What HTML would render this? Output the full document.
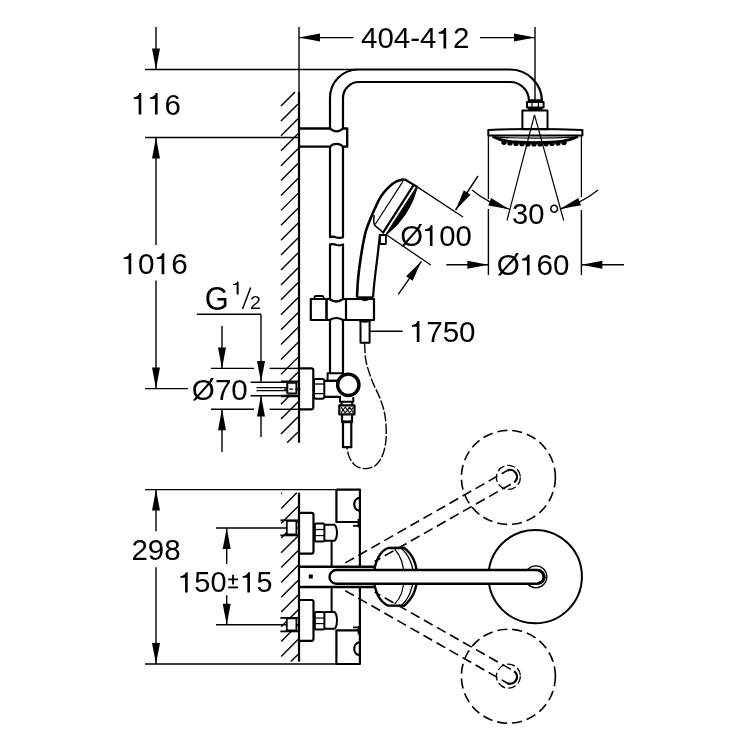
<!DOCTYPE html>
<html><head><meta charset="utf-8"><style>
html,body{margin:0;padding:0;background:#fff;}
svg{display:block;will-change:transform;}
text{font-family:"Liberation Sans",sans-serif;fill:#000;stroke:none;}
</style></head><body>
<svg width="750" height="750" viewBox="0 0 750 750" stroke="#000" fill="none" stroke-linecap="butt" stroke-linejoin="round">
<rect x="0" y="0" width="750" height="750" fill="#fff" stroke="none"/>
<line x1="156" y1="27" x2="156" y2="69.5" stroke-width="1.4" />
<polygon points="156,69.5 152,48.5 160,48.5" fill="#000" stroke="none"/>
<line x1="145" y1="69.5" x2="358" y2="69.5" stroke-width="1.4" />
<g transform="translate(131.74,114.5) scale(0.9746,1)"><path transform="translate(0,0) scale(30.14)" d="M0.235,0 L0.325,0 L0.325,-0.71 L0.262,-0.71 C0.24,-0.64 0.19,-0.585 0.07,-0.572 L0.07,-0.515 L0.235,-0.515 Z" fill="#000" stroke="none"/><path transform="translate(16.76,0) scale(30.14)" d="M0.235,0 L0.325,0 L0.325,-0.71 L0.262,-0.71 C0.24,-0.64 0.19,-0.585 0.07,-0.572 L0.07,-0.515 L0.235,-0.515 Z" fill="#000" stroke="none"/><text x="33.53" y="0" font-size="30.14">6</text></g>
<line x1="145" y1="137.5" x2="299" y2="137.5" stroke-width="1.4" />
<polygon points="156,137.5 160,158.5 152,158.5" fill="#000" stroke="none"/>
<line x1="156" y1="137.5" x2="156" y2="245" stroke-width="1.4" />
<g transform="translate(121.62,274.3) scale(1.0038,1)"><path transform="translate(0,0) scale(29.58)" d="M0.235,0 L0.325,0 L0.325,-0.71 L0.262,-0.71 C0.24,-0.64 0.19,-0.585 0.07,-0.572 L0.07,-0.515 L0.235,-0.515 Z" fill="#000" stroke="none"/><text x="16.45" y="0" font-size="29.58">0</text><path transform="translate(32.9,0) scale(29.58)" d="M0.235,0 L0.325,0 L0.325,-0.71 L0.262,-0.71 C0.24,-0.64 0.19,-0.585 0.07,-0.572 L0.07,-0.515 L0.235,-0.515 Z" fill="#000" stroke="none"/><text x="49.35" y="0" font-size="29.58">6</text></g>
<line x1="156" y1="280.5" x2="156" y2="388.6" stroke-width="1.4" />
<polygon points="156,388.6 152,367.6 160,367.6" fill="#000" stroke="none"/>
<line x1="145" y1="388.6" x2="188" y2="388.6" stroke-width="1.4" />
<line x1="299" y1="27" x2="299" y2="92" stroke-width="1.4" />
<line x1="535" y1="27" x2="535" y2="100" stroke-width="1.4" />
<line x1="299" y1="37.6" x2="353.6" y2="37.6" stroke-width="1.4" />
<polygon points="299,37.6 320,33.6 320,41.6" fill="#000" stroke="none"/>
<line x1="480" y1="37.6" x2="535" y2="37.6" stroke-width="1.4" />
<polygon points="535,37.6 514,41.6 514,33.6" fill="#000" stroke="none"/>
<g transform="translate(361.06,48.49) scale(1.0275,1)"><text x="0" y="0" font-size="28.73">404-4</text><path transform="translate(73.49,0) scale(28.73)" d="M0.235,0 L0.325,0 L0.325,-0.71 L0.262,-0.71 C0.24,-0.64 0.19,-0.585 0.07,-0.572 L0.07,-0.515 L0.235,-0.515 Z" fill="#000" stroke="none"/><text x="89.47" y="0" font-size="28.73">2</text></g>
<line x1="299" y1="92" x2="299" y2="442.8" stroke-width="2.2" />
<line x1="281" y1="106" x2="295" y2="92" stroke-width="1.4"/>
<line x1="281" y1="120.91" x2="298" y2="103.91" stroke-width="1.4"/>
<line x1="281" y1="135.82" x2="298" y2="118.82" stroke-width="1.4"/>
<line x1="281" y1="150.73" x2="298" y2="133.73" stroke-width="1.4"/>
<line x1="281" y1="165.64" x2="298" y2="148.64" stroke-width="1.4"/>
<line x1="281" y1="180.55" x2="298" y2="163.55" stroke-width="1.4"/>
<line x1="281" y1="195.46" x2="298" y2="178.46" stroke-width="1.4"/>
<line x1="281" y1="210.37" x2="298" y2="193.37" stroke-width="1.4"/>
<line x1="281" y1="225.28" x2="298" y2="208.28" stroke-width="1.4"/>
<line x1="281" y1="240.19" x2="298" y2="223.19" stroke-width="1.4"/>
<line x1="281" y1="255.1" x2="298" y2="238.1" stroke-width="1.4"/>
<line x1="281" y1="270.01" x2="298" y2="253.01" stroke-width="1.4"/>
<line x1="281" y1="284.92" x2="298" y2="267.92" stroke-width="1.4"/>
<line x1="281" y1="299.83" x2="298" y2="282.83" stroke-width="1.4"/>
<line x1="281" y1="314.74" x2="298" y2="297.74" stroke-width="1.4"/>
<line x1="281" y1="329.65" x2="298" y2="312.65" stroke-width="1.4"/>
<line x1="281" y1="344.56" x2="298" y2="327.56" stroke-width="1.4"/>
<line x1="281" y1="359.47" x2="298" y2="342.47" stroke-width="1.4"/>
<line x1="281" y1="374.38" x2="298" y2="357.38" stroke-width="1.4"/>
<line x1="281" y1="389.29" x2="298" y2="372.29" stroke-width="1.4"/>
<line x1="281" y1="404.2" x2="298" y2="387.2" stroke-width="1.4"/>
<line x1="281" y1="419.11" x2="298" y2="402.11" stroke-width="1.4"/>
<line x1="281" y1="434.02" x2="298" y2="417.02" stroke-width="1.4"/>
<line x1="287.13" y1="442.8" x2="298" y2="431.93" stroke-width="1.4"/>
<line x1="197" y1="314.3" x2="261" y2="314.3" stroke-width="1.4" />
<line x1="261" y1="314.3" x2="261" y2="382" stroke-width="1.4" />
<polygon points="261,382 257,361 265,361" fill="#000" stroke="none"/>
<line x1="261" y1="395.6" x2="261" y2="437" stroke-width="1.4" />
<polygon points="261,395.6 265,416.6 257,416.6" fill="#000" stroke="none"/>
<line x1="222" y1="326" x2="222" y2="368.4" stroke-width="1.4" />
<polygon points="222,368.4 218,347.4 226,347.4" fill="#000" stroke="none"/>
<line x1="222" y1="409.3" x2="222" y2="452" stroke-width="1.4" />
<polygon points="222,409.3 226,430.3 218,430.3" fill="#000" stroke="none"/>
<line x1="211" y1="368.4" x2="254" y2="368.4" stroke-width="1.4" />
<line x1="269.6" y1="368.4" x2="299" y2="368.4" stroke-width="1.4" />
<line x1="211" y1="409.3" x2="254" y2="409.3" stroke-width="1.4" />
<line x1="269.6" y1="409.3" x2="299" y2="409.3" stroke-width="1.4" />
<g transform="translate(204.66,309.82) scale(0.9520,1)"><text x="0" y="0" font-size="32.39">G</text></g>
<g transform="translate(231.46,294.48) scale(1.1994,1)"><path transform="translate(0,0) scale(18.31)" d="M0.235,0 L0.325,0 L0.325,-0.71 L0.262,-0.71 C0.24,-0.64 0.19,-0.585 0.07,-0.572 L0.07,-0.515 L0.235,-0.515 Z" fill="#000" stroke="none"/></g>
<line x1="242.5" y1="309" x2="250.7" y2="287.4" stroke-width="1.5" />
<g transform="translate(250.12,308.78) scale(1.1022,1)"><text x="0" y="0" font-size="17.75">2</text></g>
<g transform="translate(191.86,399.99) scale(1.0105,1)"><text x="0" y="0" font-size="29.3">Ø70</text></g>
<line x1="145" y1="489.6" x2="336.4" y2="489.6" stroke-width="1.4" />
<line x1="145" y1="664" x2="336" y2="664" stroke-width="1.4" />
<line x1="156" y1="489.6" x2="156" y2="531.3" stroke-width="1.4" />
<polygon points="156,489.6 160,510.6 152,510.6" fill="#000" stroke="none"/>
<line x1="156" y1="567.3" x2="156" y2="664" stroke-width="1.4" />
<polygon points="156,664 152,643 160,643" fill="#000" stroke="none"/>
<g transform="translate(131.42,559.89) scale(1.0036,1)"><text x="0" y="0" font-size="29.44">298</text></g>
<line x1="216" y1="528" x2="299" y2="528" stroke-width="1.4" />
<line x1="216" y1="624.8" x2="299" y2="624.8" stroke-width="1.4" />
<line x1="226.7" y1="528" x2="226.7" y2="564" stroke-width="1.4" />
<polygon points="226.7,528 230.7,549 222.7,549" fill="#000" stroke="none"/>
<line x1="226.7" y1="595.3" x2="226.7" y2="624.8" stroke-width="1.4" />
<polygon points="226.7,624.8 222.7,603.8 230.7,603.8" fill="#000" stroke="none"/>
<g transform="translate(178.27,592.49) scale(1.0129,1)"><path transform="translate(0,0) scale(28.59)" d="M0.235,0 L0.325,0 L0.325,-0.71 L0.262,-0.71 C0.24,-0.64 0.19,-0.585 0.07,-0.572 L0.07,-0.515 L0.235,-0.515 Z" fill="#000" stroke="none"/><text x="15.9" y="0" font-size="28.59">50</text></g>
<line x1="228.2" y1="579.4" x2="238" y2="579.4" stroke-width="1.8" />
<line x1="233" y1="574.8" x2="233" y2="584.4" stroke-width="1.8" />
<line x1="228.2" y1="587.4" x2="238" y2="587.4" stroke-width="1.8" />
<g transform="translate(240.59,592.49) scale(1.0061,1)"><path transform="translate(0,0) scale(28.59)" d="M0.235,0 L0.325,0 L0.325,-0.71 L0.262,-0.71 C0.24,-0.64 0.19,-0.585 0.07,-0.572 L0.07,-0.515 L0.235,-0.515 Z" fill="#000" stroke="none"/><text x="15.9" y="0" font-size="28.59">5</text></g>
<line x1="299" y1="492.8" x2="299" y2="661.6" stroke-width="2.2" />
<line x1="281.2" y1="493.6" x2="282" y2="492.8" stroke-width="1.4"/>
<line x1="281.2" y1="508.4" x2="296.8" y2="492.8" stroke-width="1.4"/>
<line x1="281.2" y1="523.2" x2="298" y2="506.4" stroke-width="1.4"/>
<line x1="281.2" y1="538" x2="298" y2="521.2" stroke-width="1.4"/>
<line x1="281.2" y1="552.8" x2="298" y2="536" stroke-width="1.4"/>
<line x1="281.2" y1="567.6" x2="298" y2="550.8" stroke-width="1.4"/>
<line x1="281.2" y1="582.4" x2="298" y2="565.6" stroke-width="1.4"/>
<line x1="281.2" y1="597.2" x2="298" y2="580.4" stroke-width="1.4"/>
<line x1="281.2" y1="612" x2="298" y2="595.2" stroke-width="1.4"/>
<line x1="281.2" y1="626.8" x2="298" y2="610" stroke-width="1.4"/>
<line x1="281.2" y1="641.6" x2="298" y2="624.8" stroke-width="1.4"/>
<line x1="281.2" y1="656.4" x2="298" y2="639.6" stroke-width="1.4"/>
<line x1="290.8" y1="661.6" x2="298" y2="654.4" stroke-width="1.4"/>
<path d="M330,128 L330,97.5 A28,28 0 0 1 358,69.5 L510,69.5 A32,32 0 0 1 542,101.5" stroke-width="2.2" />
<path d="M343,128 L343,98 A16,16 0 0 1 359,82 L510,82 A19,19 0 0 1 529,101" stroke-width="2.2" />
<path d="M299,128.5 L330,128.5 A9,9 0 0 0 343,128.5 L347.2,128.5 L347.2,146.7 L343,146.7 A9,9 0 0 0 330,146.7 L299,146.7" stroke-width="2.3" />
<path d="M330,146.7 L330,237.2 Q333,236 336.5,237.5 Q340,238.5 343,237.2 L343,146.7" stroke-width="2.2" />
<path d="M330,299 L330,244.4 Q333,243.5 336.5,245 Q340,246 343,244.4 L343,299" stroke-width="2.2" />
<path d="M330,320 L330,373.2 M343,320 L343,373.2" stroke-width="2.2" />
<path d="M310.8,299 L329.5,299 Q336.2,304 343,299 L374,299 L374,320 L343,320 Q336.2,316 329.5,320 L310.8,320 Z" stroke-width="2.2" />
<line x1="326.5" y1="299" x2="326.5" y2="320" stroke-width="2.6" />
<line x1="346" y1="299" x2="346" y2="320" stroke-width="2.2" />
<path d="M314.5,299 L314.5,297 Q314.5,296 316,296 L322,296 Q323.5,296 323.5,297 L323.5,299" stroke-width="1.8" />
<rect x="360.5" y="320.8" width="9.1" height="21.9" rx="0" stroke-width="2" />
<path d="M358,320 Q365,324 372,320 Z" stroke-width="1.5" fill="#000"/>
<line x1="370.4" y1="331.2" x2="402.7" y2="331.2" stroke-width="1.4" />
<g transform="translate(409.83,341.99) scale(1.0030,1)"><path transform="translate(0,0) scale(29.44)" d="M0.235,0 L0.325,0 L0.325,-0.71 L0.262,-0.71 C0.24,-0.64 0.19,-0.585 0.07,-0.572 L0.07,-0.515 L0.235,-0.515 Z" fill="#000" stroke="none"/><text x="16.37" y="0" font-size="29.44">750</text></g>
<rect x="327.6" y="373.2" width="15.4" height="7.6" rx="0" stroke-width="2" />
<path d="M299,368.4 L311.3,368.4 Q313.3,368.4 313.3,370.4 L313.3,407.3 Q313.3,409.3 311.3,409.3 L299,409.3" stroke-width="2.2" />
<path d="M314,380 Q314,378.9 316,378.9 L322.3,378.9 Q324.3,378.9 324.3,381 L324.3,396.6 Q324.3,398.7 322.3,398.7 L316,398.7 Q314,398.7 314,396.6 Z" stroke-width="2" />
<line x1="314.5" y1="384" x2="324" y2="384" stroke-width="1.3" />
<line x1="314.5" y1="393.6" x2="324" y2="393.6" stroke-width="1.3" />
<path d="M324.3,380.8 L338,380.8 M324.3,396.9 L341,396.9" stroke-width="2.2" />
<circle cx="348.3" cy="384.8" r="10.7" stroke-width="3.4" fill="#fff"/>
<path d="M340,397 L340,401.7 L353.3,401.7 L353.3,397" stroke-width="2" />
<path d="M341.5,401.7 L341.5,405.3 M352.2,401.7 L352.2,405.3" stroke-width="2" />
<rect x="339.3" y="405.4" width="15.2" height="8.9" rx="0" stroke-width="2.2" fill="#fff"/>
<path d="M341,412.8 L345.3,407 L349.6,412.8 L353.2,407.4 M341,407.2 L345.3,412.9 L349.6,407.1 L353.2,412.6" stroke-width="1.1" />
<path d="M342,414.2 L342,422 L352,422 L352,414.2" stroke-width="2.2" />
<rect x="343" y="422" width="8.3" height="25.2" rx="0" stroke-width="2.2" />
<rect x="341.7" y="420.4" width="10.3" height="2.8" rx="0" stroke-width="0" fill="#000" stroke="none"/>
<path d="M364.6,343.2 C364.85,346.27 364.8,355.23 366.1,361.6 C367.4,367.97 370,375.08 372.4,381.4 C374.8,387.72 378.4,393.78 380.5,399.5 C382.6,405.22 384.05,409.4 385,415.7 C385.95,422 386.53,430.92 386.2,437.3 C385.87,443.68 384.7,449.38 383,454 C381.3,458.62 378.83,462.57 376,465 C373.17,467.43 369.33,468.43 366,468.6 C362.67,468.77 358.75,467.85 356,466 C353.25,464.15 351.03,460.63 349.5,457.5 C347.97,454.37 347.25,448.92 346.8,447.2" stroke-width="1.4" stroke-dasharray="10 2"/>
<rect x="281" y="381.6" width="17" height="14.4" rx="0" stroke-width="0" fill="#fff" stroke="none"/>
<path d="M281,381.6 L298,381.6 M281,396 L298,396" stroke-width="2.4" />
<rect x="287.3" y="382.8" width="9.2" height="10.8" rx="0" stroke-width="2" fill="#fff"/>
<line x1="284" y1="389.2" x2="301" y2="389.2" stroke-width="1.2" stroke-dasharray="3.5 2"/>
<path d="M250.6,382.3 L286,382.3 M250.6,395.8 L286,395.8" stroke-width="1.6" />
<path d="M256.5,387.7 L287,387.7 M256.5,390.7 L287,390.7" stroke-width="1.2" />
<path d="M404.5,179.2 C403.08,179.6 398.75,180.17 396,181.6 C393.25,183.03 390.53,185.3 388,187.8 C385.47,190.3 382.93,193.27 380.8,196.6 C378.67,199.93 376.8,204.4 375.2,207.8 C373.6,211.2 372.47,213.97 371.2,217 C369.93,220.03 368.7,222.83 367.6,226 C366.5,229.17 365.73,230.78 364.6,236 C363.47,241.22 361.88,250.18 360.8,257.3 C359.72,264.42 358.73,272.02 358.1,278.7 C357.47,285.38 357.18,294.28 357,297.4" stroke-width="2.6" />
<path d="M380,233.9 C378,256 374,280 373.1,297.4" stroke-width="2.2" />
<path d="M357,297.4 L373.1,297.4" stroke-width="2" />
<path d="M358,297.4 Q365,304 372,297.4 Z" stroke-width="1.2" fill="#000"/>
<rect x="380" y="235" width="5.9" height="9" rx="0" stroke-width="1.8" />
<path d="M404.5,179.2 L417.6,187.1" stroke-width="2.2" />
<line x1="417.6" y1="187.1" x2="463" y2="217" stroke-width="1.3" />
<line x1="403.1" y1="181.1" x2="375.1" y2="224.5" stroke-width="1.2" />
<path d="M374.2,215 Q373,222 374.7,225.4 L383.1,232.4" stroke-width="1.5" />
<line x1="413.4" y1="185.3" x2="382.6" y2="233.4" stroke-width="2.2" />
<line x1="416.7" y1="187.1" x2="385.9" y2="234.8" stroke-width="1.4" />
<path d="M417.2,188 L386.6,234.6 Q409.5,216.5 417.2,188 Z" stroke-width="0.8" fill="#000"/>
<line x1="386.3" y1="234.8" x2="430.8" y2="265" stroke-width="1.3" />
<line x1="478" y1="176" x2="455.6" y2="210" stroke-width="1.4" />
<polygon points="455.6,210 463.81,190.26 470.49,194.66" fill="#000" stroke="none"/>
<line x1="398.3" y1="294.4" x2="421.4" y2="261.3" stroke-width="1.4" />
<polygon points="421.4,261.3 412.66,280.81 406.1,276.23" fill="#000" stroke="none"/>
<g transform="translate(400.17,246.09) scale(1.0009,1)"><text x="0" y="0" font-size="29.3">Ø</text><path transform="translate(22.79,0) scale(29.3)" d="M0.235,0 L0.325,0 L0.325,-0.71 L0.262,-0.71 C0.24,-0.64 0.19,-0.585 0.07,-0.572 L0.07,-0.515 L0.235,-0.515 Z" fill="#000" stroke="none"/><text x="39.08" y="0" font-size="29.3">00</text></g>
<rect x="527" y="102" width="16.6" height="5.6" rx="0" stroke-width="2" />
<rect x="528.4" y="99.3" width="14" height="2.7" rx="0" stroke-width="0" fill="#000" stroke="none"/>
<rect x="528.2" y="107.4" width="14.2" height="3.2" rx="0" stroke-width="0" fill="#000" stroke="none"/>
<line x1="532" y1="102" x2="532" y2="107.5" stroke-width="1.2" />
<line x1="538.4" y1="102" x2="538.4" y2="107.5" stroke-width="1.2" />
<rect x="522.4" y="110.5" width="25.1" height="18.7" rx="0" stroke-width="2" />
<path d="M488.3,130 Q535,128 582.4,130 L582.4,135.6 L488.3,135.6 Z" stroke-width="2" />
<path d="M494,137.2 Q535,139.2 574,137.2" stroke-width="1.2" />
<path d="M492.5,136.5 C502,141.5 512,142.6 535,142.6 C558,142.6 568,141.5 578,136.5" stroke-width="2.8" />
<ellipse cx="504" cy="142.37" rx="2.7" ry="2.6" fill="#000" stroke="none"/>
<ellipse cx="510" cy="142.94" rx="2.7" ry="2.6" fill="#000" stroke="none"/>
<ellipse cx="516" cy="143.39" rx="2.7" ry="2.6" fill="#000" stroke="none"/>
<ellipse cx="522" cy="143.71" rx="2.7" ry="2.6" fill="#000" stroke="none"/>
<ellipse cx="528" cy="143.92" rx="2.7" ry="2.6" fill="#000" stroke="none"/>
<ellipse cx="534" cy="144" rx="2.7" ry="2.6" fill="#000" stroke="none"/>
<ellipse cx="540" cy="143.96" rx="2.7" ry="2.6" fill="#000" stroke="none"/>
<ellipse cx="546" cy="143.79" rx="2.7" ry="2.6" fill="#000" stroke="none"/>
<ellipse cx="552" cy="143.51" rx="2.7" ry="2.6" fill="#000" stroke="none"/>
<ellipse cx="558" cy="143.1" rx="2.7" ry="2.6" fill="#000" stroke="none"/>
<ellipse cx="564" cy="142.57" rx="2.7" ry="2.6" fill="#000" stroke="none"/>
<line x1="488.4" y1="136" x2="488.4" y2="199" stroke-width="1.3" />
<line x1="488.4" y1="209" x2="488.4" y2="275" stroke-width="1.4" />
<line x1="581.4" y1="136" x2="581.4" y2="197" stroke-width="1.3" />
<line x1="581.4" y1="210" x2="581.4" y2="275" stroke-width="1.4" />
<line x1="534.5" y1="114.8" x2="507" y2="220.5" stroke-width="1.2" />
<line x1="534.5" y1="114.8" x2="563.7" y2="220.5" stroke-width="1.2" />
<path d="M472,190 A97.5,97.5 0 0 0 509.3,209.2" stroke-width="1.3" />
<path d="M598,190 A97.5,97.5 0 0 1 560,209" stroke-width="1.3" />
<polygon points="509.3,209.2 488.23,205.57 491.04,198.08" fill="#000" stroke="none"/>
<polygon points="560,209 578.26,197.88 581.07,205.37" fill="#000" stroke="none"/>
<g transform="translate(512.03,224.19) scale(1.0159,1)"><text x="0" y="0" font-size="28.73">30</text></g>
<text x="548.2" y="225" font-size="29.5" text-anchor="start" >°</text>
<line x1="446.3" y1="264.7" x2="488.4" y2="264.7" stroke-width="1.4" />
<polygon points="488.4,264.7 467.4,268.7 467.4,260.7" fill="#000" stroke="none"/>
<line x1="581.4" y1="264.7" x2="624" y2="264.7" stroke-width="1.4" />
<polygon points="581.4,264.7 602.4,260.7 602.4,268.7" fill="#000" stroke="none"/>
<g transform="translate(496.86,275.19) scale(1.0323,1)"><text x="0" y="0" font-size="28.73">Ø</text><path transform="translate(22.35,0) scale(28.73)" d="M0.235,0 L0.325,0 L0.325,-0.71 L0.262,-0.71 C0.24,-0.64 0.19,-0.585 0.07,-0.572 L0.07,-0.515 L0.235,-0.515 Z" fill="#000" stroke="none"/><text x="38.33" y="0" font-size="28.73">60</text></g>
<path d="M336.4,489.6 L359.9,489.6 L359.9,567 M359.9,586.4 L359.9,664 L336.4,664 L336.4,630.4 L359.9,630.4 M336.4,489.6 L336.4,522 L359.9,522" stroke-width="2.2" />
<path d="M359.5,497.9 C352.5,498.5 352.5,510 359.5,510.7" stroke-width="2.2" />
<path d="M359.5,642.4 C352.5,643 352.5,654.5 359.5,655.2" stroke-width="2.2" />
<line x1="353" y1="525.8" x2="359.9" y2="525.8" stroke-width="1.8" />
<line x1="353" y1="627.4" x2="359.9" y2="627.4" stroke-width="1.8" />
<rect x="357.6" y="519" width="3" height="8.4" rx="0" stroke-width="0" fill="#000" stroke="none"/>
<rect x="357.6" y="626" width="3" height="8.4" rx="0" stroke-width="0" fill="#000" stroke="none"/>
<path d="M299,512.8 L311.5,512.8 Q313.5,512.8 313.5,514.8 L313.5,551.6 Q313.5,553.6 311.5,553.6 L299,553.6" stroke-width="2.2" />
<rect x="314.8" y="523.5" width="9.6" height="18.1" rx="1.5" stroke-width="2" />
<line x1="315" y1="529.5" x2="324" y2="529.5" stroke-width="1.2" />
<line x1="315" y1="535.6" x2="324" y2="535.6" stroke-width="1.2" />
<path d="M324.4,524.8 L334.5,524.8 C337.8,527.8 337.8,537.8 334.5,540.8 L324.4,540.8" stroke-width="2" />
<line x1="331.6" y1="540.8" x2="331.6" y2="567" stroke-width="2" />
<rect x="286.8" y="520.8" width="9.6" height="13.6" rx="0" stroke-width="1.8" fill="#fff"/>
<line x1="280.4" y1="520.3" x2="298" y2="520.3" stroke-width="1.8" />
<line x1="280.4" y1="535.4" x2="298" y2="535.4" stroke-width="1.8" />
<path d="M299,600 L311.5,600 Q313.5,600 313.5,602 L313.5,638.8 Q313.5,640.8 311.5,640.8 L299,640.8" stroke-width="2.2" />
<rect x="314.8" y="612" width="9.6" height="17.6" rx="1.5" stroke-width="2" />
<line x1="315" y1="618" x2="324" y2="618" stroke-width="1.2" />
<line x1="315" y1="623.6" x2="324" y2="623.6" stroke-width="1.2" />
<path d="M324.4,612 L334.5,612 C337.8,615 337.8,625.8 334.5,628.8 L324.4,628.8" stroke-width="2" />
<line x1="331.6" y1="586.4" x2="331.6" y2="612" stroke-width="2" />
<rect x="286.8" y="618.4" width="9.6" height="12" rx="0" stroke-width="1.8" fill="#fff"/>
<line x1="280.4" y1="617.9" x2="298" y2="617.9" stroke-width="1.8" />
<line x1="280.4" y1="631.4" x2="298" y2="631.4" stroke-width="1.8" />
<path d="M299,566.8 L374,566.8 M299,586.9 L374,586.9" stroke-width="2.5" />
<rect x="308.8" y="574.5" width="4" height="4" rx="0" stroke-width="0" fill="#000" stroke="none"/>
<path d="M388,548 L404,547.8 C411,553 417,563 417,576.8 C417,590 411,600 404,605.8 L388,605.6 C380,602 374,592 374,576.8 C374,562 380,551 388,548 Z" stroke-width="2.4" />
<path d="M401.5,548.5 C408,554 413.5,565 413.5,576.8 C413.5,588 408,600 401.5,605" stroke-width="1.3" />
<path d="M394.6,549 C401,556 404,566 404,576.8 C404,588 401,598 394.6,604" stroke-width="1.2" />
<circle cx="535.9" cy="576.8" r="11" stroke-width="1.3" />
<circle cx="535.2" cy="576.6" r="46.7" stroke-width="2" />
<path d="M336.4,570 L536.8,570 A6.9,6.9 0 0 1 536.8,583.8 L336.4,583.8 A6.9,6.9 0 0 1 336.4,570 Z" stroke-width="2.4" fill="#fff"/>
<path d="M538,570.6 A6.3,6.3 0 0 1 538,583.2" stroke-width="3" />
<circle cx="508.4" cy="477.4" r="47" stroke-width="1.6" stroke-dasharray="10 5"/>
<circle cx="508.4" cy="477.4" r="12" stroke-width="1.3" stroke-dasharray="8 3"/>
<path d="M345.3,562.9 L507.5,470.4 A6.9,6.9 0 0 1 514.1,482.4 L374.7,561.5" stroke-width="1.6" stroke-dasharray="10 5"/>
<path d="M507.5,470.4 A6.9,6.9 0 0 1 514.1,482.4" stroke-width="2.2" />
<circle cx="508.4" cy="676.2" r="47" stroke-width="1.6" stroke-dasharray="10 5"/>
<circle cx="508.4" cy="676.2" r="12" stroke-width="1.3" stroke-dasharray="8 3"/>
<path d="M345.3,590.7 L507.5,683.2 A6.9,6.9 0 0 0 514.1,671.2 L374.7,592.1" stroke-width="1.6" stroke-dasharray="10 5"/>
<path d="M507.5,683.2 A6.9,6.9 0 0 0 514.1,671.2" stroke-width="2.2" />
</svg></body></html>
